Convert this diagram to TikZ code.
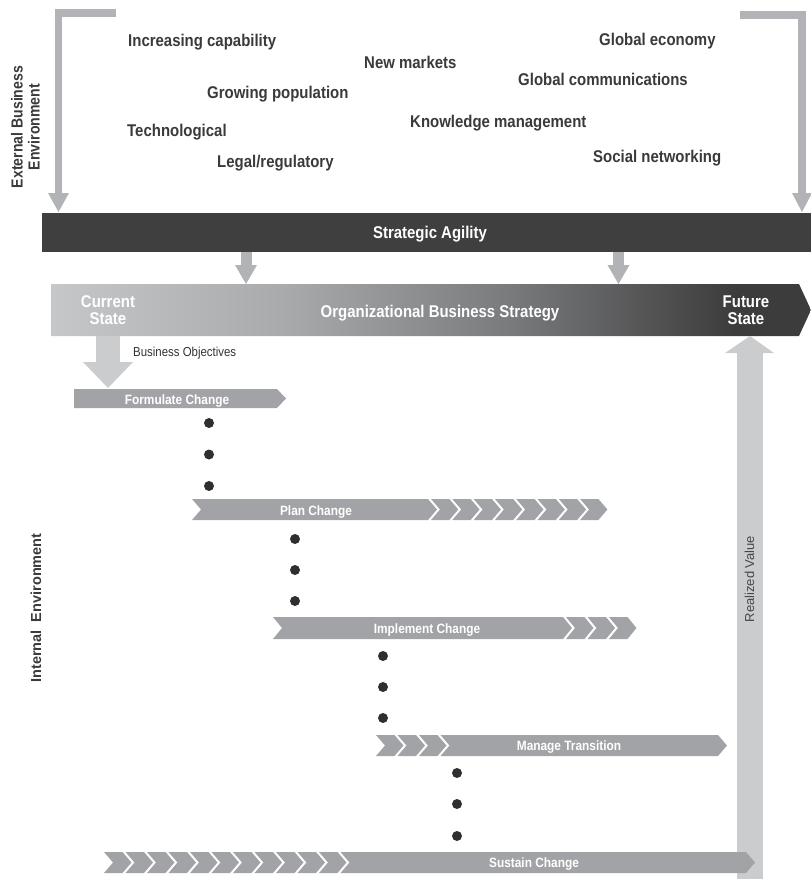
\documentclass[tikz,border=0pt]{standalone}
\usepackage{fontspec}
\setmainfont{Liberation Sans}
\newfontfamily\condfont{Liberation Sans}[FakeStretch=0.88]

\definecolor{wordgray}{HTML}{3A3A3A}
\definecolor{bargray}{HTML}{A2A3A6}
\definecolor{arrowgray}{HTML}{B2B3B6}
\definecolor{palegray}{HTML}{CBCCCE}
\definecolor{agility}{HTML}{3F3F3F}
\definecolor{dotgray}{HTML}{2F2F2F}
\definecolor{ogA}{HTML}{C6C7C9}
\definecolor{ogB}{HTML}{AAABAD}
\definecolor{ogC}{HTML}{7A7B7D}
\definecolor{ogD}{HTML}{3C3C3C}

% left-to-right fade of the strategy band (band spans 25bp..75bp)
\pgfdeclarehorizontalshading{orgshade}{100bp}{%
  color(0bp)=(ogA); color(25bp)=(ogA); color(40bp)=(ogB);
  color(55bp)=(ogC); color(70bp)=(ogD); color(75bp)=(ogD); color(100bp)=(ogD)}

% one notched chevron: left x, right x, top y, bottom y
\newcommand{\chevshape}[4]{%
  \fill[bargray] ({#1},{#3}) -- ({#2},{#3}) -- ({#2+9},{(#3+#4)/2}) --
    ({#2},{#4}) -- ({#1},{#4}) -- ({#1+9},{(#3+#4)/2}) -- cycle;}

\tikzset{
  topword/.style={anchor=base west, inner sep=0pt, text=wordgray,
    font=\condfont\bfseries\fontsize{17}{18}\selectfont},
  bigwhite/.style={inner sep=0pt, text=white, align=center,
    font=\condfont\bfseries\fontsize{17}{17}\selectfont},
  barlabel/.style={anchor=base, inner sep=0pt, text=white,
    font=\condfont\bfseries\fontsize{13.5}{14}\selectfont},
  sidelabel/.style={inner sep=0pt, text=wordgray, rotate=90, align=center},
  dot/.style={circle, fill=dotgray, inner sep=0pt, minimum size=10pt},
  bracket/.style={draw=arrowgray, line width=7.5pt},
}

\begin{document}
\begin{tikzpicture}[x=1pt, y=-1pt]
\useasboundingbox (0,0) rectangle (811,879);

% ---- external environment brackets ----
\coordinate (lb0) at (116,13);
\coordinate (lb1) at (58.5,13);
\coordinate (lb2) at (58.5,194);
\coordinate (rb0) at (740,15);
\coordinate (rb1) at (802,15);
\coordinate (rb2) at (802,194);
\draw[bracket] (lb0) -- (lb1) -- (lb2);
\draw[bracket] (rb0) -- (rb1) -- (rb2);
\fill[arrowgray] (48,193) -- (69,193) -- (58.5,212) -- cycle;
\fill[arrowgray] (792,193) -- (812,193) -- (802,212) -- cycle;

% ---- external factors ----
\node[topword] (w1) at (128,46) {Increasing capability};
\node[topword] (w2) at (364,68) {New markets};
\node[topword] (w3) at (599,45) {Global economy};
\node[topword] (w4) at (207,98) {Growing population};
\node[topword] (w5) at (518,85) {Global communications};
\node[topword] (w6) at (127,136) {Technological};
\node[topword] (w7) at (410,127) {Knowledge management};
\node[topword] (w8) at (217,167) {Legal/regulatory};
\node[topword] (w9) at (593,162) {Social networking};

\node[sidelabel, font=\condfont\bfseries\fontsize{16}{17}\selectfont]
  (ext) at (25.5,127) {External Business\\Environment};
\node[sidelabel, font=\bfseries\fontsize{14.5}{16}\selectfont]
  (int) at (36,608) {Internal\ \ Environment};

% ---- strategic agility ----
\fill[agility] (42,213) rectangle (811,252);
\node[bigwhite, anchor=base] (sa) at (430,238) {Strategic Agility};

\foreach \ax/\nm in {246/a, 618.5/b} {
  \coordinate (s\nm) at (\ax,252);
  \fill[arrowgray] (\ax-5.5,252) rectangle (\ax+5.5,266);
  \fill[arrowgray] (\ax-11,265) -- (\ax+11,265) -- (\ax,284) -- cycle;
}

% ---- organizational business strategy ----
\path[shading=orgshade] (51,284) -- (799,284) -- (811,310) -- (799,336) -- (51,336) -- cycle;
\node[bigwhite, anchor=base] (cur) at (108,307) {Current};
\node[bigwhite, anchor=base] (cur2) at (108,324) {State};
\node[bigwhite, anchor=base] (obs) at (440,317) {Organizational Business Strategy};
\node[bigwhite, anchor=base] (fut) at (746,307) {Future};
\node[bigwhite, anchor=base] (fut2) at (746,324) {State};

% ---- realized value ----
\fill[palegray] (737,352) rectangle (763,879);
\fill[palegray] (725,353) -- (774,353) -- (750,336) -- cycle;
\node[inner sep=0pt, rotate=90, text=black!72, font=\fontsize{13}{14}\selectfont]
  (rv) at (749.5,579) {Realized Value};

% ---- business objectives ----
\fill[palegray] (96,336) rectangle (120,363);
\fill[palegray] (83,362) -- (133,362) -- (108,388) -- cycle;
\node[anchor=base west, inner sep=0pt, text=black!80,
  font=\condfont\fontsize{13}{14}\selectfont] (bo) at (133,356) {Business Objectives};

% ---- formulate change ----
\fill[bargray] (74,389) -- (277,389) -- (286,398.5) -- (277,408) -- (74,408) -- cycle;
\node[barlabel] (fc) at (177,404) {Formulate Change};
\foreach \i/\yy in {1/423, 2/454.5, 3/486} \node[dot] (fd\i) at (209,\yy) {};

% ---- plan change ----
\chevshape{192}{428}{499}{520}
\foreach \k in {0,...,7} {\chevshape{431+21.3*\k}{449.3+21.3*\k}{499}{520}}
\node[barlabel] (pc) at (316,515) {Plan Change};
\foreach \i/\yy in {1/539, 2/570, 3/601} \node[dot] (pd\i) at (295,\yy) {};

% ---- implement change ----
\chevshape{273}{563}{617}{639}
\foreach \k in {0,...,2} {\chevshape{566+21.5*\k}{584.5+21.5*\k}{617}{639}}
\node[barlabel] (ic) at (427,633) {Implement Change};
\foreach \i/\yy in {1/656, 2/687, 3/718} \node[dot] (id\i) at (383,\yy) {};

% ---- manage transition ----
\foreach \k in {0,...,2} {\chevshape{376+21.5*\k}{394.5+21.5*\k}{735}{756}}
\chevshape{440.5}{718}{735}{756}
\node[barlabel] (mt) at (569,750.5) {Manage Transition};
\foreach \i/\yy in {1/773, 2/804, 3/836} \node[dot] (md\i) at (457,\yy) {};

% ---- sustain change ----
\foreach \k in {0,...,10} {\chevshape{104+21.5*\k}{122.5+21.5*\k}{852}{873}}
\chevshape{340.5}{746}{852}{873}
\node[barlabel] (sc) at (534,867) {Sustain Change};

\end{tikzpicture}
\end{document}
